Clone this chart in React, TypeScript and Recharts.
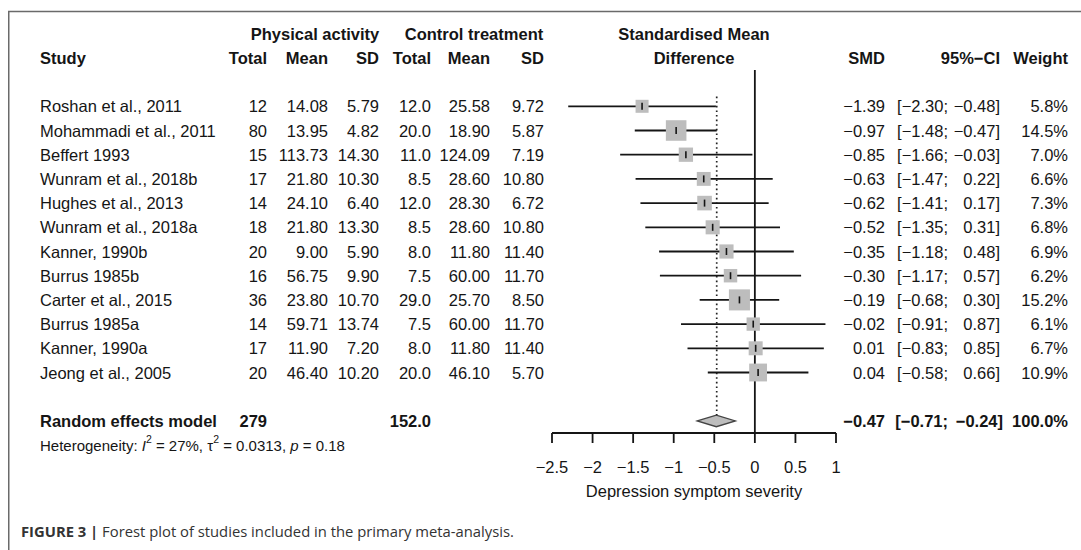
import {
  ComposedChart, Scatter, XAxis, YAxis, ReferenceLine, ReferenceArea, ErrorBar,
} from "recharts"

const STUDIES = [
  "Roshan et al., 2011", "Mohammadi et al., 2011", "Beffert 1993", "Wunram et al., 2018b",
  "Hughes et al., 2013", "Wunram et al., 2018a", "Kanner, 1990b", "Burrus 1985b",
  "Carter et al., 2015", "Burrus 1985a", "Kanner, 1990a", "Jeong et al., 2005",
]
const PA_TOTAL = [12, 80, 15, 17, 14, 18, 20, 16, 36, 14, 17, 20]
const PA_MEAN = [14.08, 13.95, 113.73, 21.8, 24.1, 21.8, 9.0, 56.75, 23.8, 59.71, 11.9, 46.4]
const PA_SD = [5.79, 4.82, 14.3, 10.3, 6.4, 13.3, 5.9, 9.9, 10.7, 13.74, 7.2, 10.2]
const CT_TOTAL = [12.0, 20.0, 11.0, 8.5, 12.0, 8.5, 8.0, 7.5, 29.0, 7.5, 8.0, 20.0]
const CT_MEAN = [25.58, 18.9, 124.09, 28.6, 28.3, 28.6, 11.8, 60.0, 25.7, 60.0, 11.8, 46.1]
const CT_SD = [9.72, 5.87, 7.19, 10.8, 6.72, 10.8, 11.4, 11.7, 8.5, 11.7, 11.4, 5.7]
const SMD = [-1.39, -0.97, -0.85, -0.63, -0.62, -0.52, -0.35, -0.3, -0.19, -0.02, 0.01, 0.04]
const CI_LO = [-2.3, -1.48, -1.66, -1.47, -1.41, -1.35, -1.18, -1.17, -0.68, -0.91, -0.83, -0.58]
const CI_HI = [-0.48, -0.47, -0.03, 0.22, 0.17, 0.31, 0.48, 0.57, 0.3, 0.87, 0.85, 0.66]
const WEIGHT = [5.8, 14.5, 7.0, 6.6, 7.3, 6.8, 6.9, 6.2, 15.2, 6.1, 6.7, 10.9]

const SUM_PA_TOTAL = 279
const SUM_CT_TOTAL = 152.0
const SUM_SMD = -0.47
const SUM_LO = -0.71
const SUM_HI = -0.24
const SUM_WEIGHT = 100.0

const X_TICKS = [-2.5, -2, -1.5, -1, -0.5, 0, 0.5, 1]

// layout
const W = 1081
const H = 550
const ROW0 = 106.3
const ROW_H = 24.2
const rowY = (i: number) => ROW0 + ROW_H * i
const PLOT_L = 552
const PLOT_R = 836
const Y_MIN = -1.5
const Y_MAX = 13.5
const AXIS_H = 30
const SUM_ROW = STUDIES.length + 1

const FONT = "'Liberation Sans', Arial, Helvetica, sans-serif"
const FS = 16.5
const INK = "#151515"

const minus = (s: string) => s.replace(/-/g, "\u2212")
const f2 = (v: number) => minus(v.toFixed(2))

const rows = STUDIES.map((name, i) => ({
  name,
  row: i,
  smd: SMD[i],
  w: WEIGHT[i],
  err: [SMD[i] - CI_LO[i], CI_HI[i] - SMD[i]],
}))

const Square = (p: any) => {
  const s = 5.4 * Math.sqrt(p.payload.w)
  return <rect x={p.cx - s / 2} y={p.cy - s / 2} width={s} height={s} fill="#bdbdbd" />
}

const Tick = (p: any) => (
  <line x1={p.cx} x2={p.cx} y1={p.cy - 3.5} y2={p.cy + 3.5} stroke={INK} strokeWidth={1.6} />
)

const Diamond = (p: any) => {
  const { x, y, width, height } = p
  const cy = y + height / 2
  const mx = x + width / 2
  return (
    <polygon
      points={`${x},${cy} ${mx},${y} ${x + width},${cy} ${mx},${y + height}`}
      fill="#bdbdbd"
      stroke="#444"
      strokeWidth={1.3}
    />
  )
}

function T({ x, y, children, anchor = "end", bold = false, size = FS }: any) {
  return (
    <text
      x={x}
      y={y}
      textAnchor={anchor}
      dominantBaseline="central"
      fontWeight={bold ? "bold" : "normal"}
      fontSize={size}
      fill={INK}
    >
      {children}
    </text>
  )
}

// column right edges
const C_STUDY = 40
const C_PA_TOT = 267
const C_PA_MEAN = 328
const C_PA_SD = 379
const C_CT_TOT = 431
const C_CT_MEAN = 490
const C_CT_SD = 544
const C_SMD = 885
const C_CI_LO = 948
const C_CI_HI = 1000
const C_CI_HEAD = 1000
const C_WEIGHT = 1068

export default function App() {
  const plotTop = rowY(Y_MIN)
  const plotBottom = rowY(Y_MAX)
  const midX = (PLOT_L + PLOT_R) / 2
  return (
    <div style={{ position: "absolute", left: 0, top: 0, width: W, height: H, background: "#fff", fontFamily: FONT }}>
      <div style={{ position: "absolute", left: 0, top: 0 }}>
        <ComposedChart
          width={W}
          height={H}
          data={rows}
          margin={{ top: plotTop, left: PLOT_L, right: W - PLOT_R, bottom: H - plotBottom - AXIS_H }}
        >
          <XAxis
            type="number"
            dataKey="smd"
            domain={[X_TICKS[0], X_TICKS[X_TICKS.length - 1]]}
            ticks={X_TICKS}
            interval={0}
            allowDataOverflow
            tickFormatter={(v: number) => minus(String(v))}
            tick={{ fontSize: FS, fill: INK, fontFamily: FONT }}
            tickSize={10}
            tickMargin={18}
            axisLine={{ stroke: INK, strokeWidth: 1.8 }}
            tickLine={{ stroke: INK, strokeWidth: 1.8 }}
            height={AXIS_H}
          />
          <YAxis type="number" dataKey="row" domain={[Y_MIN, Y_MAX]} reversed hide allowDataOverflow />
          <ReferenceLine x={0} stroke={INK} strokeWidth={1.8} />
          <ReferenceLine
            segment={[{ x: SUM_SMD, y: -0.4 }, { x: SUM_SMD, y: SUM_ROW - 0.24 }]}
            stroke="#222"
            strokeWidth={1.7}
            strokeDasharray="1.6 3"
          />
          <Scatter data={rows} dataKey="smd" shape={Square} isAnimationActive={false} />
          <Scatter data={rows} dataKey="smd" shape={Tick} isAnimationActive={false}>
            <ErrorBar dataKey="err" direction="x" width={0} stroke={INK} strokeWidth={1.8} />
          </Scatter>
          <ReferenceArea
            x1={SUM_LO}
            x2={SUM_HI}
            y1={SUM_ROW - 0.24}
            y2={SUM_ROW + 0.24}
            shape={Diamond}
          />
        </ComposedChart>
      </div>
      <svg
        width={W}
        height={H}
        style={{ position: "absolute", left: 0, top: 0, pointerEvents: "none", fontFamily: FONT }}
      >
        <line x1={8} y1={11.5} x2={W} y2={11.5} stroke="#6a6a6a" strokeWidth={1.5} />
        <line x1={8.75} y1={11} x2={8.75} y2={H} stroke="#6a6a6a" strokeWidth={1.5} />

        <T x={315} y={rowY(-3)} anchor="middle" bold>Physical activity</T>
        <T x={474} y={rowY(-3)} anchor="middle" bold>Control treatment</T>
        <T x={midX} y={rowY(-3)} anchor="middle" bold>Standardised Mean</T>

        <T x={C_STUDY} y={rowY(-2)} anchor="start" bold>Study</T>
        <T x={C_PA_TOT} y={rowY(-2)} bold>Total</T>
        <T x={C_PA_MEAN} y={rowY(-2)} bold>Mean</T>
        <T x={C_PA_SD} y={rowY(-2)} bold>SD</T>
        <T x={C_CT_TOT} y={rowY(-2)} bold>Total</T>
        <T x={C_CT_MEAN} y={rowY(-2)} bold>Mean</T>
        <T x={C_CT_SD} y={rowY(-2)} bold>SD</T>
        <T x={midX} y={rowY(-2)} anchor="middle" bold>Difference</T>
        <T x={C_SMD} y={rowY(-2)} bold>SMD</T>
        <T x={C_CI_HEAD} y={rowY(-2)} bold>95%−CI</T>
        <T x={C_WEIGHT} y={rowY(-2)} bold>Weight</T>

        {STUDIES.map((s, i) => (
          <g key={s}>
            <T x={C_STUDY} y={rowY(i)} anchor="start">{s}</T>
            <T x={C_PA_TOT} y={rowY(i)}>{PA_TOTAL[i]}</T>
            <T x={C_PA_MEAN} y={rowY(i)}>{PA_MEAN[i].toFixed(2)}</T>
            <T x={C_PA_SD} y={rowY(i)}>{PA_SD[i].toFixed(2)}</T>
            <T x={C_CT_TOT} y={rowY(i)}>{CT_TOTAL[i].toFixed(1)}</T>
            <T x={C_CT_MEAN} y={rowY(i)}>{CT_MEAN[i].toFixed(2)}</T>
            <T x={C_CT_SD} y={rowY(i)}>{CT_SD[i].toFixed(2)}</T>
            <T x={C_SMD} y={rowY(i)}>{f2(SMD[i])}</T>
            <T x={C_CI_LO} y={rowY(i)}>{`[${f2(CI_LO[i])};`}</T>
            <T x={C_CI_HI} y={rowY(i)}>{`${f2(CI_HI[i])}]`}</T>
            <T x={C_WEIGHT} y={rowY(i)}>{`${WEIGHT[i].toFixed(1)}%`}</T>
          </g>
        ))}

        <T x={C_STUDY} y={rowY(SUM_ROW)} anchor="start" bold>Random effects model</T>
        <T x={C_PA_TOT} y={rowY(SUM_ROW)} bold>{SUM_PA_TOTAL}</T>
        <T x={C_CT_TOT} y={rowY(SUM_ROW)} bold>{SUM_CT_TOTAL.toFixed(1)}</T>
        <T x={C_SMD} y={rowY(SUM_ROW)} bold>{f2(SUM_SMD)}</T>
        <T x={C_CI_LO} y={rowY(SUM_ROW)} bold>{`[${f2(SUM_LO)};`}</T>
        <T x={C_CI_HI + 3} y={rowY(SUM_ROW)} bold>{`${f2(SUM_HI)}]`}</T>
        <T x={C_WEIGHT} y={rowY(SUM_ROW)} bold>{`${SUM_WEIGHT.toFixed(1)}%`}</T>

        <text x={C_STUDY} y={rowY(SUM_ROW + 1)} dominantBaseline="central" fontSize={15} fill={INK}>
          Heterogeneity: <tspan fontStyle="italic">I</tspan>
          <tspan fontSize={10.5} dy={-6}>2</tspan>
          <tspan dy={6}> = 27%, τ</tspan>
          <tspan fontSize={10.5} dy={-6}>2</tspan>
          <tspan dy={6}> = 0.0313, </tspan>
          <tspan fontStyle="italic">p</tspan> = 0.18
        </text>

        <T x={midX} y={491} anchor="middle">Depression symptom severity</T>

        <text
          x={21}
          y={531}
          dominantBaseline="central"
          fontSize={14.8}
          fill="#333"
          style={{ fontFamily: "'Open Sans', 'Noto Sans', sans-serif" }}
        >
          <tspan fontWeight="bold">FIGURE 3 |</tspan> Forest plot of studies included in the primary meta-analysis.
        </text>
      </svg>
    </div>
  )
}
